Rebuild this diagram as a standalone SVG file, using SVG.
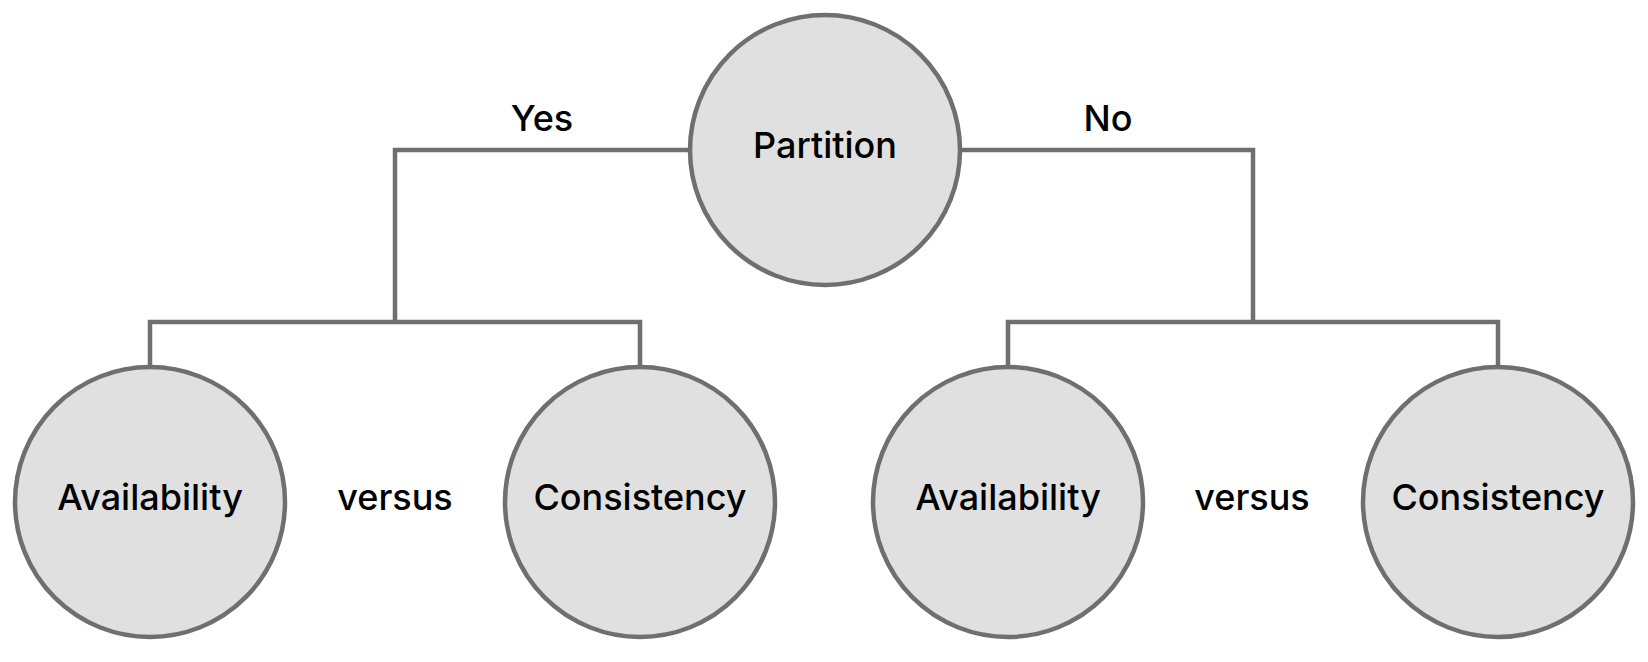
<svg xmlns="http://www.w3.org/2000/svg" width="1648" height="662" viewBox="0 0 1648 662">
<style>
.node{fill:#e0e0e0;stroke:#6f6f6f;stroke-width:4.5}
.conn{fill:none;stroke:#6f6f6f;stroke-width:4.5}
text{font-family:"Inter","Noto Sans","DejaVu Sans",sans-serif;font-weight:500;font-size:36px;fill:#000;text-anchor:middle}
</style>
<rect width="1648" height="662" fill="#ffffff"/>
<g id="connectors">
<path class="conn" d="M689,150 H395 V322 M150,365 V322 H640 V365"/>
<path class="conn" d="M961,150 H1253 V322 M1008,365 V322 H1498 V365"/>
</g>
<g id="partition"><circle class="node" cx="825" cy="150" r="135"/><text x="825" y="158">Partition</text></g>
<g id="availability-yes"><circle class="node" cx="150" cy="502" r="135"/><text x="150" y="510">Availability</text></g>
<g id="consistency-yes"><circle class="node" cx="640" cy="502" r="135"/><text x="640" y="510">Consistency</text></g>
<g id="availability-no"><circle class="node" cx="1008" cy="502" r="135"/><text x="1008" y="510">Availability</text></g>
<g id="consistency-no"><circle class="node" cx="1498" cy="502" r="135"/><text x="1498" y="510">Consistency</text></g>
<g id="labels">
<text x="542" y="131">Yes</text>
<text x="1108" y="131">No</text>
<text x="395" y="510">versus</text>
<text x="1252" y="510">versus</text>
</g>
</svg>
